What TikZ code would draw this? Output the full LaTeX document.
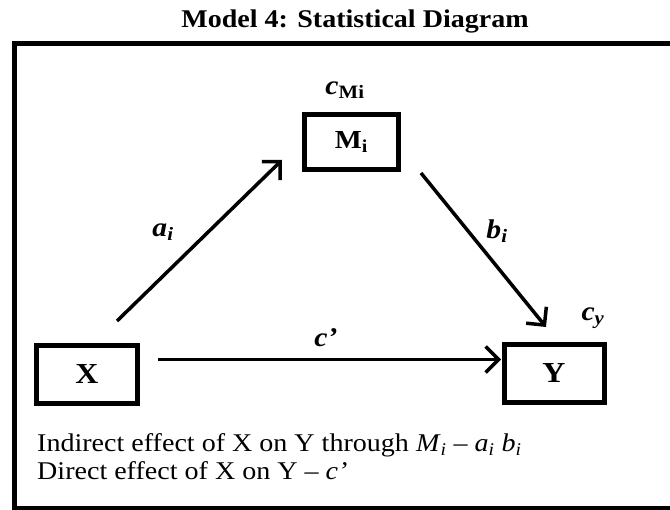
\documentclass[tikz,border=0pt]{standalone}
\usepackage{fontspec}
\setmainfont{Liberation Serif}[FakeStretch=1.1]
\usetikzlibrary{arrows.meta}
\begin{document}
\begin{tikzpicture}[x=1pt,y=-1pt,
  box/.style={draw,line width=5pt,inner sep=0pt},
  conn/.style={line width=3.5pt,-{Straight Barb[length=13pt,width=26pt,line width=3.5pt]}},
  lab/.style={font=\fontsize{27}{30}\selectfont\bfseries\itshape,inner sep=0pt},
  body/.style={font=\fontsize{25.5}{30}\selectfont,inner sep=0pt,anchor=base west}]
\useasboundingbox (0,0) rectangle (670,510);
\node[font=\fontsize{25.5}{30}\selectfont\bfseries,inner sep=0pt,anchor=base] (title) at (355,28) {Model 4: Statistical Diagram};
\draw[line width=5pt] (700,44) -- (14,44) -- (14,508.5) -- (700,508.5);
\node[box,minimum width=94pt,minimum height=55pt,font=\fontsize{26}{30}\selectfont\bfseries] (M) at (351.5,142) {M\textsubscript{i}};
\node[box,minimum width=101pt,minimum height=58pt,font=\fontsize{29}{32}\selectfont\bfseries] (X) at (87,374.4) {X};
\node[box,minimum width=100pt,minimum height=58pt,font=\fontsize{29}{32}\selectfont\bfseries] (Y) at (554,373.5) {Y};
\node[lab] (cM) at (345,90) {c\textsubscript{\upshape Mi}};
\node[lab] (cy) at (593,318) {c\textsubscript{y}};
\node[lab] (ai) at (163,232) {a\textsubscript{i}};
\node[lab] (bi) at (497,231) {b\textsubscript{i}};
\node[lab] (cp) at (326,338) {c’};
\coordinate (a0) at (117,321);
\coordinate (a1) at (282,160);
\coordinate (b0) at (421,173);
\coordinate (b1) at (546,327);
\coordinate (c0) at (158,359.5);
\coordinate (c1) at (501,359.5);
\draw[conn] (a0) -- (a1);
\draw[conn] (b0) -- (b1);
\draw[conn] (c0) -- (c1);
\node[body] (l1) at (37,452) {Indirect effect of X on Y through \textit{M}\textsubscript{\textit{i}} – \textit{a}\textsubscript{\textit{i}} \textit{b}\textsubscript{\textit{i}}};
\node[body] (l2) at (37,480) {Direct effect of X on Y – \textit{c’}};
\end{tikzpicture}
\end{document}
